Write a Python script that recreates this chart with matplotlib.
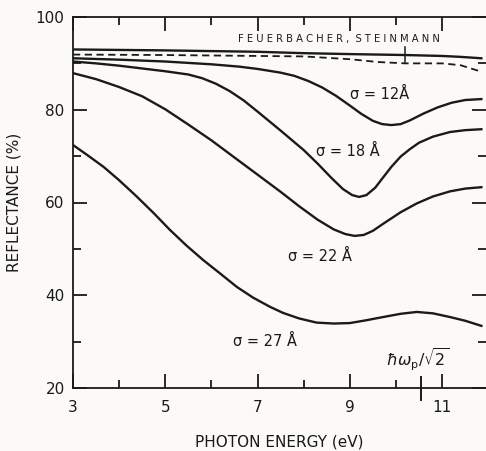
import matplotlib
matplotlib.use("Agg")
import matplotlib.pyplot as plt
from matplotlib.ticker import FixedLocator

# ---- data ----
fs_x = [3.0, 5.0, 7.0, 8.0, 9.0, 10.2, 11.0, 11.4, 11.85]
fs_y = [93.0, 92.8, 92.5, 92.2, 92.0, 91.8, 91.6, 91.4, 91.1]

dash_x = [3.0, 5.0, 7.0, 8.0, 9.0, 9.6, 10.2, 11.0, 11.4, 11.85]
dash_y = [91.9, 91.8, 91.6, 91.5, 90.9, 90.3, 90.0, 90.0, 89.6, 88.2]

s12_x = [3.0, 4.0, 5.0, 6.0, 6.6, 7.0, 7.5, 7.8, 8.1, 8.4, 8.7, 9.0, 9.25, 9.5, 9.7,
         9.9, 10.1, 10.3, 10.6, 10.9, 11.2, 11.5, 11.85]
s12_y = [91.1, 90.8, 90.4, 89.8, 89.3, 88.8, 88.0, 87.3, 86.2, 84.8, 83.0, 80.9, 79.1,
         77.6, 76.9, 76.7, 76.9, 77.7, 79.2, 80.5, 81.5, 82.1, 82.3]

s18_x = [3.0, 3.5, 4.0, 4.5, 5.0, 5.5, 5.8, 6.1, 6.4, 6.7, 7.0, 7.5, 8.0, 8.3, 8.6,
         8.85, 9.05, 9.2, 9.36, 9.55, 9.72, 9.9, 10.1, 10.3, 10.5, 10.8, 11.17, 11.5,
         11.85]
s18_y = [90.4, 90.0, 89.5, 88.9, 88.3, 87.6, 86.8, 85.6, 84.0, 82.0, 79.6, 75.5, 71.3,
         68.4, 65.3, 62.9, 61.6, 61.2, 61.6, 63.2, 65.4, 67.7, 69.9, 71.5, 72.9, 74.2,
         75.2, 75.6, 75.8]

s22_x = [3.0, 3.5, 4.0, 4.5, 5.0, 5.5, 6.0, 6.5, 7.0, 7.5, 7.9, 8.3, 8.65, 8.9, 9.1,
         9.3, 9.5, 9.72, 10.1, 10.45, 10.8, 11.17, 11.5, 11.85]
s22_y = [87.9, 86.6, 84.9, 82.9, 80.1, 76.8, 73.4, 69.7, 66.0, 62.3, 59.2, 56.3, 54.2,
         53.2, 52.8, 53.0, 53.9, 55.4, 57.9, 59.8, 61.3, 62.4, 63.0, 63.3]

s27_x = [3.0, 3.3, 3.66, 4.0, 4.38, 4.75, 5.1, 5.45, 5.82, 6.2, 6.55, 6.9, 7.27, 7.55,
         7.9, 8.28, 8.65, 9.0, 9.35, 9.72, 10.1, 10.45, 10.8, 11.17, 11.5, 11.85]
s27_y = [72.4, 70.3, 67.7, 64.8, 61.3, 57.7, 54.1, 50.8, 47.6, 44.6, 41.8, 39.5, 37.5,
         36.2, 35.0, 34.1, 33.9, 34.0, 34.6, 35.3, 36.0, 36.4, 36.1, 35.3, 34.5, 33.4]

x_major = [3, 5, 7, 9, 11]
x_minor = [4, 6, 8, 10]
y_major = [20, 40, 60, 80, 100]
y_minor = [30, 50, 70, 90]
hw_x = 10.54
marker_x = 10.2

labels = [("\u03c3 = 12\u00c5", 9.65, 83.3),
          ("\u03c3 = 18 \u00c5", 8.95, 71.0),
          ("\u03c3 = 22 \u00c5", 8.35, 48.3),
          ("\u03c3 = 27 \u00c5", 7.15, 30.0)]

# ---- drawing ----
bg = "#fbfaf7"
ink = "#1a1a1a"
fig = plt.figure(figsize=(4.86, 4.51), dpi=100, facecolor=bg)
ax = fig.add_axes([73/486, 63/451, 1 - 73/486, (388-17)/451])
ax.set_facecolor(bg)
ax.set_xlim(3, 11.95)
ax.set_ylim(20, 100)

lw = 1.7
ax.plot(fs_x, fs_y, color=ink, lw=lw, solid_joinstyle="round")
ax.plot(dash_x, dash_y, color=ink, lw=1.3, dashes=(4, 2.5))
for xs, ys in [(s12_x, s12_y), (s18_x, s18_y), (s22_x, s22_y), (s27_x, s27_y)]:
    ax.plot(xs, ys, color=ink, lw=lw, solid_joinstyle="round")

# small vertical marker on the FS curve
ax.plot([marker_x, marker_x], [90.4, 93.6], color=ink, lw=1.1)

for t, x, y in labels:
    ax.text(x, y, t, ha="center", va="center", fontsize=10.5, color=ink)

ax.text(8.76, 95.3, "F E U E R B A C H E R ,  S T E I N M A N N", ha="center",
        va="center", fontsize=7.2, color=ink)
ax.text(10.47, 26.2, r"$\hbar\omega_{\rm p}/\sqrt{2}$", ha="center", va="center",
        fontsize=11.5, color=ink)
# hbar omega_p / sqrt2 tick crossing the bottom axis
ax.plot([hw_x, hw_x], [17.4, 22.4], color=ink, lw=1.4, clip_on=False)

for s in ["left", "bottom", "top"]:
    ax.spines[s].set_linewidth(1.3)
    ax.spines[s].set_color(ink)
ax.spines["right"].set_visible(False)

ax.xaxis.set_major_locator(FixedLocator(x_major))
ax.xaxis.set_minor_locator(FixedLocator(x_minor))
ax.yaxis.set_major_locator(FixedLocator(y_major))
ax.yaxis.set_minor_locator(FixedLocator(y_minor))
ax.set_xticklabels([str(v) for v in x_major])
ax.set_yticklabels([str(v) for v in y_major])

ax.tick_params(axis="both", which="major", direction="in", length=10, width=1.3,
               color=ink, labelsize=11, labelcolor=ink, top=True, right=True)
ax.tick_params(axis="both", which="minor", direction="in", length=6, width=1.3,
               color=ink, top=True, right=True)
ax.tick_params(axis="x", which="major", pad=9)
ax.tick_params(axis="y", which="major", pad=6)
ax.tick_params(axis="y", which="both", right=True, labelright=False)

ax.set_xlabel("PHOTON ENERGY (eV)", fontsize=11, color=ink, labelpad=14)
ax.set_ylabel("REFLECTANCE (%)", fontsize=11, color=ink, labelpad=10)

fig.savefig("out.png", dpi=100, facecolor=bg)
